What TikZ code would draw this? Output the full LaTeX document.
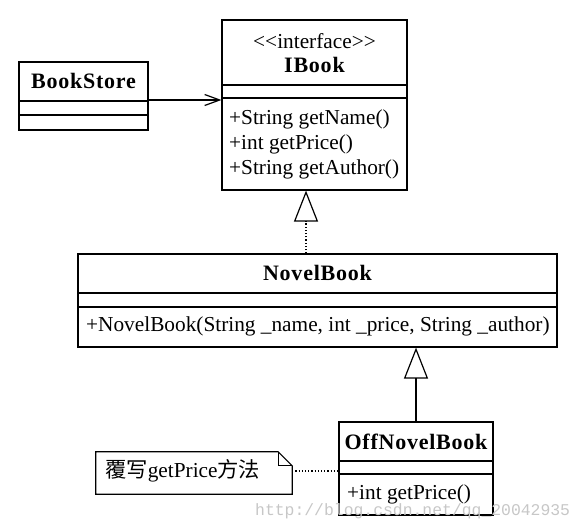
\documentclass[tikz,border=0pt]{standalone}
\usepackage{fontspec}
\setmainfont{Liberation Serif}
\newfontfamily\cjk{Noto Sans CJK SC}
\newfontfamily\wmfont{Liberation Mono}
\usetikzlibrary{arrows.meta,calc}
\begin{document}
\begin{tikzpicture}[x=1pt,y=-1pt,
  cls/.style={draw, line width=1.2pt, inner sep=0pt},
  sep/.style={line width=1.2pt},
  txt/.style={font=\fontsize{21.3}{25}\selectfont, inner sep=0pt},
  title/.style={font=\bfseries\fontsize{22}{25}\selectfont\addfontfeature{LetterSpace=3.5}, inner sep=0pt},
  assoc/.style={line width=1.2pt, -{Straight Barb[length=15pt,width=11pt,line width=1.2pt]}},
  gen/.style={line width=1.2pt, -{Triangle[open,length=31pt,width=24pt,line width=1.2pt]}},
  real/.style={line width=1.2pt, dotted, -{Triangle[open,length=31pt,width=24pt,line width=1.2pt]}},
  notelink/.style={line width=1.2pt, dotted}
]
\path[use as bounding box] (0,0) rectangle (588,529);

% BookStore
\node[cls, minimum width=129pt, minimum height=68pt] (bs) at (83.5,96) {};
\node[title] (bsn) at (83.5,81) {BookStore};
\draw[sep] (bs.west |- 0,101) -- (bs.east |- 0,101);
\draw[sep] (bs.west |- 0,115) -- (bs.east |- 0,115);

% IBook
\node[cls, minimum width=185pt, minimum height=170pt] (ib) at (314.5,105) {};
\node[txt] (ibs) at (314.5,41) {<\kern0pt<interface>\kern0pt>};
\node[title] (ibn) at (314.5,65) {IBook};
\draw[sep] (ib.west |- 0,85) -- (ib.east |- 0,85);
\draw[sep] (ib.west |- 0,98) -- (ib.east |- 0,98);
\node[txt, anchor=west] (ibm1) at (229,119) {+String getName()};
\node[txt, anchor=west] (ibm2) at (229,144) {+int getPrice()};
\node[txt, anchor=west] (ibm3) at (229,169) {+String getAuthor()};

% NovelBook
\node[cls, minimum width=479pt, minimum height=93pt] (nb) at (317.5,300.5) {};
\node[title] (nbn) at (317.5,273) {NovelBook};
\draw[sep] (nb.west |- 0,293) -- (nb.east |- 0,293);
\draw[sep] (nb.west |- 0,307) -- (nb.east |- 0,307);
\node[txt, anchor=west] (nbm1) at (86,326) {+NovelBook(String \_name, int \_price, String \_author)};

% OffNovelBook
\node[cls, minimum width=154pt, minimum height=93pt] (ob) at (416,468.5) {};
\node[title] (obn) at (416,442) {OffNovelBook};
\draw[sep] (ob.west |- 0,461) -- (ob.east |- 0,461);
\draw[sep] (ob.west |- 0,474) -- (ob.east |- 0,474);
\node[txt, anchor=west] (obm1) at (347,494) {+int getPrice()};

% Note
\node[minimum width=196pt, minimum height=42pt, inner sep=0pt] (nt) at (194,473) {};
\draw[line width=1.2pt, line join=miter]
  (nt.north west) -- ([xshift=-14pt]nt.north east) -- ([yshift=-14pt]nt.north east)
  -- (nt.south east) -- (nt.south west) -- cycle;
\draw[line width=1.2pt]
  ([xshift=-14pt]nt.north east) -- ([xshift=-14pt,yshift=-14pt]nt.north east) -- ([yshift=-14pt]nt.north east);
\node[txt, anchor=west] (ntt) at (105,471) {{\cjk 覆写}getPrice{\cjk 方法}};

% Connectors
\draw[assoc] ([yshift=-4pt]bs.east) -- ([yshift=-4pt]bs.east -| ib.west);
\coordinate (ip) at ([xshift=-8.5pt]ib.south);
\draw[real] (nb.north -| ip) -- (ip);
\draw[gen] (ob.north) -- (ob.north |- nb.south);
\draw[notelink] ([yshift=2pt]nt.east) -- ([yshift=2pt]nt.east -| ob.west);

% Watermark
\node[font=\wmfont\fontsize{16.4}{16}\selectfont, text=black!22, anchor=west, inner sep=0pt] (wm) at (255,511) {http://blog.csdn.net/qq\_20042935};
\end{tikzpicture}
\end{document}
